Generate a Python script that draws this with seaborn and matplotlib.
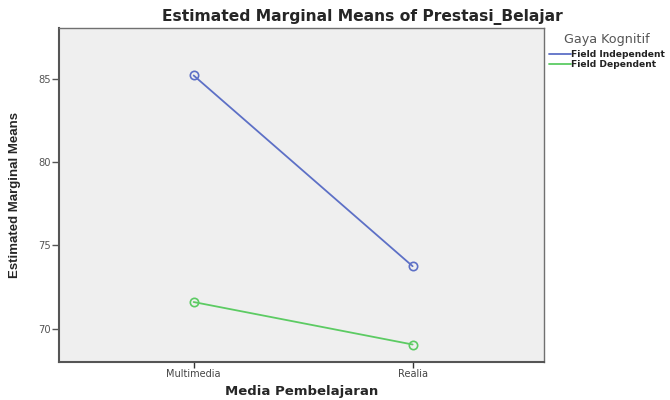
import matplotlib
matplotlib.use("Agg")
import matplotlib.pyplot as plt
import seaborn as sns
import pandas as pd

media = ["Multimedia", "Realia"]
field_independent = [85.2, 73.75]
field_dependent = [71.6, 69.05]
groups = ["Field Independent", "Field Dependent"]
colors = ["#5d70c6", "#5ccb63"]

df = pd.DataFrame({
    "Media": media * 2,
    "Mean": field_independent + field_dependent,
    "Gaya": [groups[0]] * 2 + [groups[1]] * 2,
})

sns.set_theme(style="white")
plt.rcParams["font.family"] = ["DejaVu Sans"]

fig = plt.figure(figsize=(6.7, 4.0), dpi=100)
ax = fig.add_axes([59/670, 1-362/400, (544-59)/670, (362-28)/400])
ax.set_facecolor("#efefef")

sns.lineplot(data=df, x="Media", y="Mean", hue="Gaya", hue_order=groups,
             palette=colors, marker="o", markersize=6, markerfacecolor="none",
             markeredgewidth=1.2, linewidth=1.3, ax=ax, sort=False)
for line, c in zip(ax.lines, colors):
    line.set_markeredgecolor(c)

ax.set_xlim(-0.615, 1.6)
ax.set_ylim(68.0, 88.05)
ax.set_yticks([70, 75, 80, 85])
ax.set_xticks([0, 1])
ax.set_xticklabels(media)
for s in ax.spines.values():
    s.set_color("#707070")
    s.set_linewidth(1.0)
ax.spines["left"].set_color("#555555")
ax.spines["bottom"].set_color("#555555")
ax.spines["left"].set_linewidth(1.5)
ax.spines["bottom"].set_linewidth(1.5)
ax.tick_params(axis="y", direction="out", length=5, width=1, color="#555555",
               labelsize=7.2, labelcolor="#555555", pad=1, left=True)
ax.tick_params(axis="x", direction="out", length=4, width=1, color="#333333",
               labelsize=7, labelcolor="#444444", pad=1, bottom=True)

ax.set_xlabel("Media Pembelajaran", fontsize=9.5, fontweight="bold", labelpad=4)
ax.set_ylabel("Estimated Marginal Means", fontsize=9.5, fontweight="bold",
              family=["Liberation Sans Narrow", "Liberation Sans"], labelpad=12)
fig.text(362/670, 1-17/400, "Estimated Marginal Means of Prestasi_Belajar",
         ha="center", va="center", fontsize=11.2, fontweight="bold")

leg = ax.legend(title="Gaya Kognitif", loc="upper left",
                bbox_to_anchor=(1.0, 1.0), frameon=False, fontsize=6.6,
                title_fontsize=9.2, handlelength=2.4, handletextpad=0.1,
                borderaxespad=0.1, labelspacing=0.15, alignment="center")
leg._legend_box.sep = 3
for h in leg.legend_handles:
    h.set_marker("")
for t in leg.get_texts():
    t.set_fontweight("bold")
    t.set_color("#222222")
leg.get_title().set_color("#555555")

fig.savefig("out.png", dpi=100)
